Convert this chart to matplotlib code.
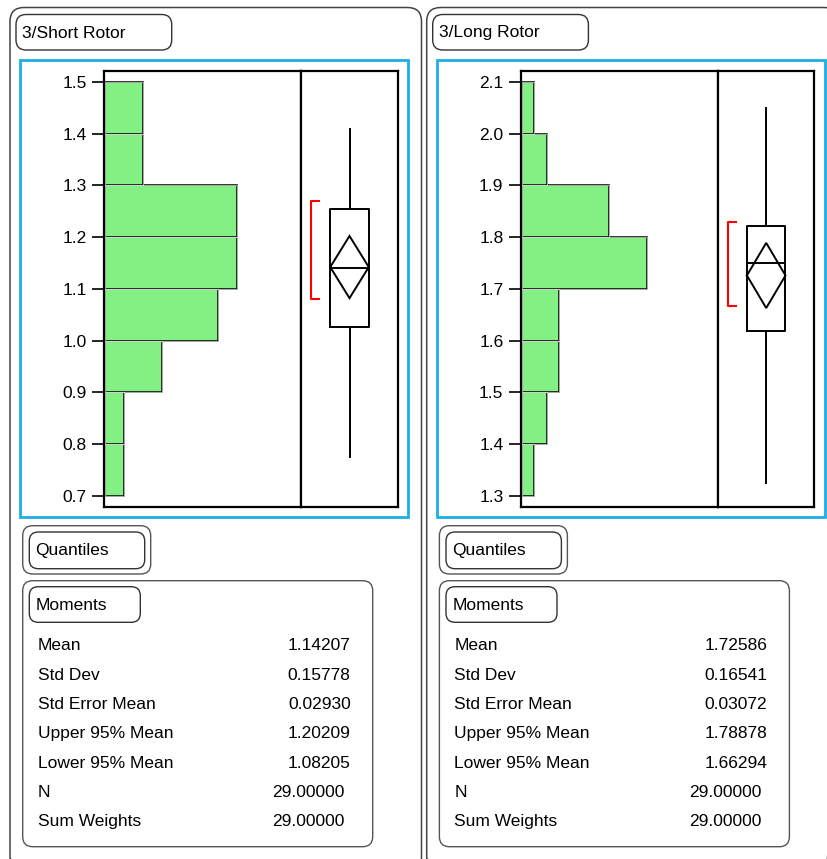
import matplotlib
matplotlib.use("Agg")
import matplotlib.pyplot as plt
from matplotlib.patches import FancyBboxPatch, Rectangle
import numpy as np

plt.rcParams['font.family'] = ['Liberation Sans', 'DejaVu Sans']

# ---------------- data ----------------
panel_titles = ["3/Short Rotor", "3/Long Rotor"]

short_edges = [0.7, 0.8, 0.9, 1.0, 1.1, 1.2, 1.3, 1.4, 1.5]
short_counts = [1, 1, 3, 6, 7, 7, 2, 2]
long_edges = [1.3, 1.4, 1.5, 1.6, 1.7, 1.8, 1.9, 2.0, 2.1]
long_counts = [1, 2, 3, 3, 10, 7, 2, 1]

# box plot summaries (whisker low, q1, median, q3, whisker high)
short_box = [0.775, 1.027, 1.140, 1.254, 1.409]
long_box = [1.326, 1.619, 1.749, 1.822, 2.049]
# shortest half bracket
short_half = [1.080, 1.270]
long_half = [1.667, 1.830]

moment_labels = ["Mean", "Std Dev", "Std Error Mean", "Upper 95% Mean",
                 "Lower 95% Mean", "N", "Sum Weights"]
short_moments = [1.14207, 0.15778, 0.02930, 1.20209, 1.08205, 29.0, 29.0]
long_moments = [1.72586, 0.16541, 0.03072, 1.78878, 1.66294, 29.0, 29.0]

# ---------------- layout ----------------
W, H = 828, 859
fig = plt.figure(figsize=(W / 100, H / 100), dpi=100)
bg = fig.add_axes([0, 0, 1, 1])
bg.set_xlim(0, W)
bg.set_ylim(H, 0)
bg.axis('off')

FS = 12.5
GREEN = '#82F082'
BLUE = '#1CAFE6'
FRAME = '#555555'


def rbox(x0, y0, x1, y1, r=10, lw=1.0, ec=FRAME):
    p = FancyBboxPatch((x0, y0), x1 - x0, y1 - y0,
                       boxstyle=f"round,pad=0,rounding_size={r}",
                       fc='none', ec=ec, lw=lw, zorder=2)
    bg.add_patch(p)


def fig_rect(x0, y0, x1, y1):
    return [x0 / W, 1 - y1 / H, (x1 - x0) / W, (y1 - y0) / H]


panels = [
    dict(dx=0.0, title=panel_titles[0], edges=short_edges, counts=short_counts,
         box=short_box, half=short_half, mom=short_moments, xmax=10.39),
    dict(dx=416.7, title=panel_titles[1], edges=long_edges, counts=long_counts,
         box=long_box, half=long_half, mom=long_moments, xmax=15.67),
]

for p in panels:
    dx = p['dx']
    # outer panel frame
    rbox(10 + dx, 7.5, 421.5 + dx, 872, r=14, lw=1.1, ec='#444444')
    # title box
    rbox(16 + dx, 14.5, 171.7 + dx, 50, r=10, lw=1.0, ec='#333333')
    bg.text(22 + dx, 33, p['title'], fontsize=FS, va='center', ha='left')
    # blue frame
    bg.add_patch(Rectangle((20.5 + dx, 60), 387.5, 456.5, fc='none',
                           ec=BLUE, lw=2, zorder=2))

    edges = np.array(p['edges'])
    counts = np.array(p['counts'])
    lo, hi = edges[0], edges[-1]
    pad = (hi - lo) * 0.0259
    ylim = (lo - pad, hi + pad)

    # histogram axes
    axh = fig.add_axes(fig_rect(104.3 + dx, 71, 301.3 + dx, 506.7))
    axh.barh(edges[:-1] + 0.05, counts, height=0.1, left=0,
             color=GREEN, edgecolor='#111111', linewidth=1.2, zorder=2)
    axh.barh(edges[:-1] + 0.05, counts, height=0.1, left=0,
             color='none', edgecolor='white', linewidth=0.4, zorder=3)
    axh.set_xlim(-0.05, p['xmax'])
    axh.set_ylim(*ylim)
    axh.set_xticks([])
    axh.set_yticks(edges)
    axh.set_yticklabels([f"{v:.1f}" for v in edges], fontsize=FS)
    axh.tick_params(axis='y', length=8.6, width=1.2, pad=4)
    for s in axh.spines.values():
        s.set_linewidth(1.6)
        s.set_color('black')

    # box plot axes
    axb = fig.add_axes(fig_rect(301.3 + dx, 71, 397.7 + dx, 506.7))
    wl, q1, med, q3, wh = p['box']
    axb.bxp([dict(whislo=wl, q1=q1, med=med, q3=q3, whishi=wh, fliers=[])],
            positions=[0.5], widths=0.40, showcaps=False, showfliers=False,
            boxprops=dict(color='black', lw=1.4),
            whiskerprops=dict(color='black', lw=1.4),
            medianprops=dict(color='black', lw=1.4))
    mean, up, low = p['mom'][0], p['mom'][3], p['mom'][4]
    axb.plot([0.3, 0.5, 0.7, 0.5, 0.3], [mean, up, mean, low, mean],
             color='black', lw=1.4, solid_joinstyle='miter')
    hlo, hhi = p['half']
    axb.plot([0.185, 0.105, 0.105, 0.185], [hhi, hhi, hlo, hlo],
             color='#FF0000', lw=1.5)
    axb.set_xlim(0, 1)
    axb.set_ylim(*ylim)
    axb.set_xticks([])
    axb.set_yticks([])
    for s in axb.spines.values():
        s.set_linewidth(1.6)
        s.set_color('black')

    # Quantiles (collapsed)
    rbox(22.7 + dx, 525.7, 150.7 + dx, 574, r=10, lw=1.0)
    rbox(29.3 + dx, 532, 144.7 + dx, 568.7, r=9, lw=1.0, ec='#333333')
    bg.text(35.5 + dx, 551, "Quantiles", fontsize=FS, va='center', ha='left')

    # Moments
    rbox(22.7 + dx, 580.7, 372.7 + dx, 846.7, r=10, lw=1.0)
    rbox(29.3 + dx, 586.7, 140.3 + dx, 622.3, r=9, lw=1.0, ec='#333333')
    bg.text(36 + dx, 605, "Moments", fontsize=FS, va='center', ha='left')
    for i, (lab, val) in enumerate(zip(moment_labels, p['mom'])):
        y = 646 + i * 29.3
        bg.text(37.7 + dx, y, lab, fontsize=FS, va='center', ha='left')
        xr = 350.7 if i < 5 else 345
        bg.text(xr + dx, y, f"{val:.5f}", fontsize=FS, va='center', ha='right')

fig.savefig("out.png", dpi=100)
